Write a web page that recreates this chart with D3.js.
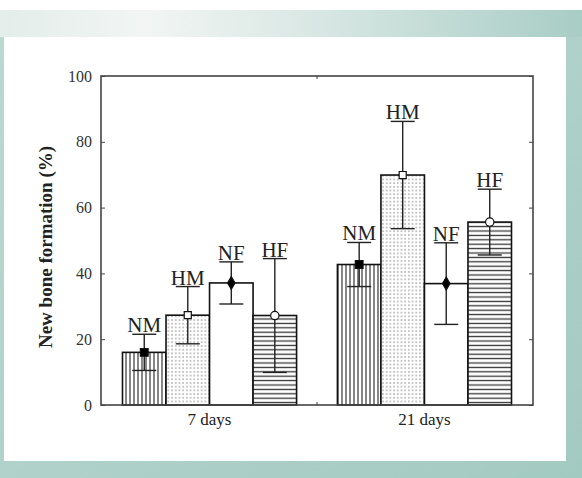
<!DOCTYPE html>
<html>
<head>
<meta charset="utf-8">
<script src="https://cdn.jsdelivr.net/npm/d3@7"></script>
<style>
  body { margin: 0; background: #fff; }
  svg { display: block; }
</style>
</head>
<body>
<svg id="chart"></svg>
<script>
// data
var groups = ["7 days", "21 days"];
var treatments = ["NM", "HM", "NF", "HF"];
var mean7 = [16, 27.3, 37.1, 27.2];
var sd7 = [5.5, 8.7, 6.4, 17.3];
var mean21 = [42.7, 69.9, 36.9, 55.6];
var sd21 = [6.7, 16.3, 12.4, 10];
var yTicks = [0, 20, 40, 60, 80, 100];

var W = 582, H = 478;
// plot box (window.top is reserved, so no plain "top")
var pLeft = 101, pRight = 533, pTop = 76, pBottom = 405;

var svg = d3.select("#chart").attr("width", W).attr("height", H);
var defs = svg.append("defs");

// backdrop
var bg = defs.append("linearGradient").attr("id", "bgGrad")
  .attr("x1", 0).attr("y1", 0).attr("x2", 1).attr("y2", 1);
bg.append("stop").attr("offset", 0).attr("stop-color", "#bcd9d2");
bg.append("stop").attr("offset", 1).attr("stop-color", "#a3cac1");
var band = defs.append("linearGradient").attr("id", "bandGrad");
band.append("stop").attr("offset", 0).attr("stop-color", "#e3edea");
band.append("stop").attr("offset", 0.25).attr("stop-color", "#f2f5f4");
band.append("stop").attr("offset", 0.55).attr("stop-color", "#d8e7e3");
band.append("stop").attr("offset", 1).attr("stop-color", "#a8cdc5");

svg.append("rect").attr("width", W).attr("height", H).attr("fill", "url(#bgGrad)");
svg.append("rect").attr("width", W).attr("height", 10).attr("fill", "#fff");
svg.append("rect").attr("y", 10).attr("width", W).attr("height", 27).attr("fill", "url(#bandGrad)");
svg.append("rect").attr("x", 4).attr("y", 37).attr("width", 562).attr("height", 424).attr("fill", "#fff");

// fill patterns
var pv = defs.append("pattern").attr("id", "pNM").attr("patternUnits", "userSpaceOnUse")
  .attr("width", 4).attr("height", 4);
pv.append("rect").attr("width", 4).attr("height", 4).attr("fill", "#fff");
pv.append("line").attr("x1", 2).attr("x2", 2).attr("y1", 0).attr("y2", 4)
  .attr("stroke", "#222").attr("stroke-width", 1.1);

var pd = defs.append("pattern").attr("id", "pHM").attr("patternUnits", "userSpaceOnUse")
  .attr("width", 3.7).attr("height", 3.7);
pd.append("rect").attr("width", 3.7).attr("height", 3.7).attr("fill", "#fff");
pd.append("rect").attr("x", 1.2).attr("y", 1.2).attr("width", 1.3).attr("height", 1.3).attr("fill", "#888");

var ph = defs.append("pattern").attr("id", "pHF").attr("patternUnits", "userSpaceOnUse")
  .attr("width", 4.4).attr("height", 4.4);
ph.append("rect").attr("width", 4.4).attr("height", 4.4).attr("fill", "#fff");
ph.append("line").attr("x1", 0).attr("x2", 4.4).attr("y1", 2.2).attr("y2", 2.2)
  .attr("stroke", "#333").attr("stroke-width", 1.3);

var fills = ["url(#pNM)", "url(#pHM)", "#fff", "url(#pHF)"];

// scales
var x0 = d3.scaleBand().domain(groups).range([pLeft, pRight]).paddingInner(0.19).paddingOuter(0.1);
var x1 = d3.scaleBand().domain(treatments).range([0, x0.bandwidth()]);
var y = d3.scaleLinear().domain([0, 100]).range([pBottom, pTop]);

var rows = [];
[mean7, mean21].forEach(function(means, g) {
  var sds = g == 0 ? sd7 : sd21;
  treatments.forEach(function(t, i) {
    rows.push({ group: groups[g], t: t, i: i, mean: means[i], sd: sds[i] });
  });
});

var font = "'Liberation Serif', 'Times New Roman', serif";

// bars
svg.append("g").selectAll("rect").data(rows).enter().append("rect")
  .attr("x", function(d) { return x0(d.group) + x1(d.t); })
  .attr("y", function(d) { return y(d.mean); })
  .attr("width", x1.bandwidth())
  .attr("height", function(d) { return y(0) - y(d.mean); })
  .attr("fill", function(d) { return fills[d.i]; })
  .attr("stroke", "#111").attr("stroke-width", 1.6);

// error bars
var eb = svg.append("g").attr("stroke", "#222").attr("stroke-width", 1.4);
rows.forEach(function(d) {
  var cx = x0(d.group) + x1(d.t) + x1.bandwidth() / 2;
  var hi = y(d.mean + d.sd), lo = y(d.mean - d.sd);
  eb.append("line").attr("x1", cx).attr("x2", cx).attr("y1", hi).attr("y2", lo);
  eb.append("line").attr("x1", cx - 12).attr("x2", cx + 12).attr("y1", hi).attr("y2", hi);
  eb.append("line").attr("x1", cx - 12).attr("x2", cx + 12).attr("y1", lo).attr("y2", lo);
  svg.append("text").attr("x", cx).attr("y", hi - 2)
    .attr("text-anchor", "middle").attr("font-family", font).attr("font-size", 21)
    .attr("fill", "#222").text(d.t);
});

// markers
var symbols = [d3.symbolSquare, d3.symbolSquare, d3.symbolDiamond, d3.symbolCircle];
var mfill = ["#000", "#fff", "#000", "#fff"];
var msize = [60, 50, 48, 55];
svg.append("g").selectAll("path").data(rows).enter().append("path")
  .attr("transform", function(d) {
    return "translate(" + (x0(d.group) + x1(d.t) + x1.bandwidth() / 2) + "," + y(d.mean) + ")";
  })
  .attr("d", function(d) { return d3.symbol().type(symbols[d.i]).size(msize[d.i])(); })
  .attr("fill", function(d) { return mfill[d.i]; })
  .attr("stroke", "#111").attr("stroke-width", 1.2);

// frame
svg.append("rect").attr("x", pLeft).attr("y", pTop).attr("width", pRight - pLeft).attr("height", pBottom - pTop)
  .attr("fill", "none").attr("stroke", "#444").attr("stroke-width", 1.6);

// left axis, ticks inward
var yl = svg.append("g").attr("transform", "translate(" + pLeft + ",0)")
  .call(d3.axisLeft(y).tickValues(yTicks).tickSize(-4).tickPadding(9));
yl.select(".domain").remove();
yl.selectAll("line").attr("stroke", "#444");
yl.selectAll("text").attr("font-family", font).attr("font-size", 16).attr("fill", "#333");

var yr = svg.append("g").attr("transform", "translate(" + pRight + ",0)")
  .call(d3.axisRight(y).tickValues(yTicks).tickSize(-4).tickFormat(""));
yr.select(".domain").remove();
yr.selectAll("line").attr("stroke", "#444");

// middle tick on top and bottom
var mid = (pLeft + pRight) / 2;
svg.append("line").attr("x1", mid).attr("x2", mid).attr("y1", pTop).attr("y2", pTop + 3).attr("stroke", "#444");
svg.append("line").attr("x1", mid).attr("x2", mid).attr("y1", pBottom).attr("y2", pBottom - 3).attr("stroke", "#444");

// group labels
svg.append("g").selectAll("text").data(groups).enter().append("text")
  .attr("x", function(d) { return x0(d) + x0.bandwidth() / 2; })
  .attr("y", 425)
  .attr("text-anchor", "middle").attr("font-family", font).attr("font-size", 17).attr("fill", "#222")
  .text(function(d) { return d; });

// y title
svg.append("text").attr("transform", "translate(52,247) rotate(-90)")
  .attr("text-anchor", "middle").attr("font-family", font).attr("font-size", 19)
  .attr("font-weight", "bold").attr("fill", "#222")
  .text("New bone formation (%)");
</script>
</body>
</html>
